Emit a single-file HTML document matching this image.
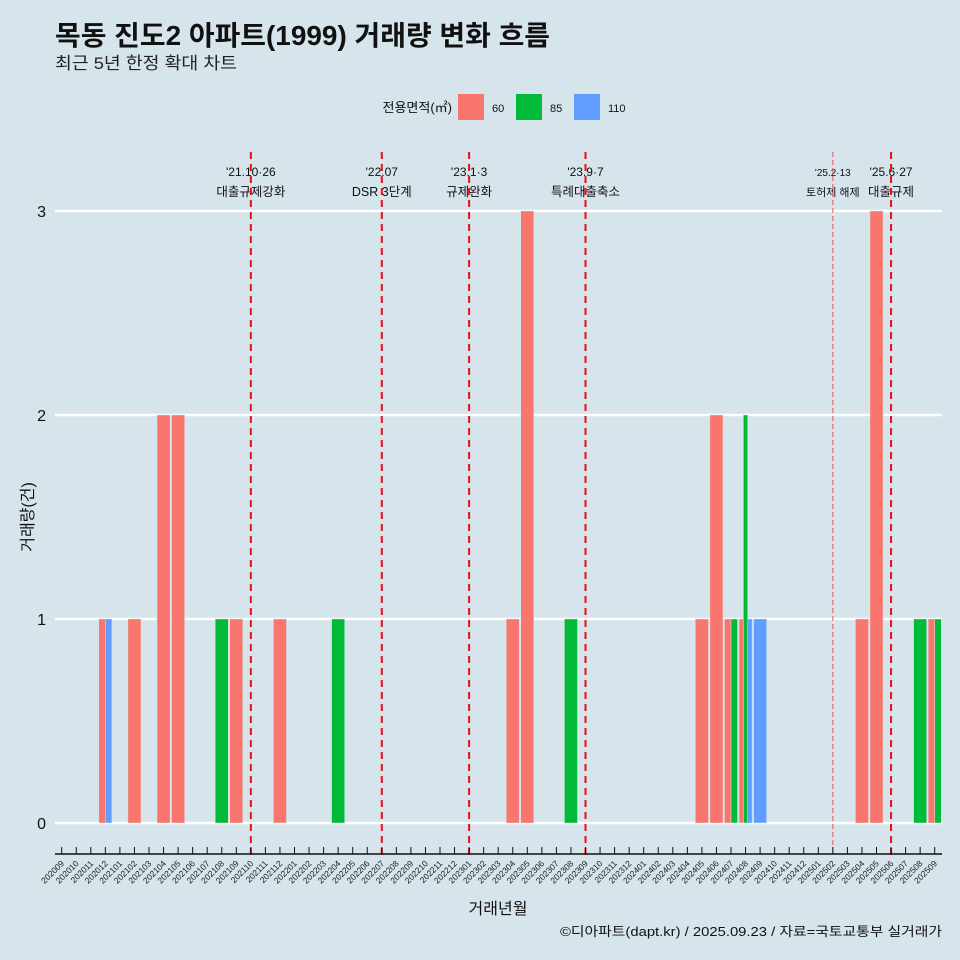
<!DOCTYPE html>
<html><head><meta charset="utf-8">
<style>
body{margin:0;background:#d6e4eb;}
svg{display:block;font-family:"Liberation Sans","Noto Sans CJK KR",sans-serif;}
</style></head>
<body>
<svg id="chart" width="960" height="960" viewBox="0 0 960 960">
<rect width="960" height="960" fill="#d6e4eb"/>
<text x="55" y="45" font-size="27.5" font-weight="bold" fill="#111" textLength="495" lengthAdjust="spacingAndGlyphs">목동 진도2 아파트(1999) 거래량 변화 흐름</text>
<text x="55" y="69" font-size="17" fill="#222" textLength="182" lengthAdjust="spacingAndGlyphs">최근 5년 한정 확대 차트</text>
<g>
<text x="452" y="112" font-size="13" text-anchor="end" fill="#111">전용면적(㎡)</text>
<rect x="458" y="94" width="26" height="26" fill="#f8766d"/>
<text x="492" y="112" font-size="11" fill="#111">60</text>
<rect x="516" y="94" width="26" height="26" fill="#00ba38"/>
<text x="550" y="112" font-size="11" fill="#111">85</text>
<rect x="574" y="94" width="26" height="26" fill="#619cff"/>
<text x="608" y="112" font-size="11" fill="#111">110</text>
</g>
<g id="grid"></g>
<g id="bars"></g>
<g id="events"></g>
<g id="axes"></g>
<text x="498" y="914" font-size="16" text-anchor="middle" fill="#111">거래년월</text>
<text transform="translate(33,517) rotate(-90)" font-size="16" text-anchor="middle" fill="#111">거래량(건)</text>
<text x="942" y="936" font-size="13" text-anchor="end" fill="#111" textLength="382" lengthAdjust="spacingAndGlyphs">©디아파트(dapt.kr) / 2025.09.23 / 자료=국토교통부 실거래가</text>
</svg>
<script>
const months = [];
for (let y = 2020, m = 9; y < 2025 || (y === 2025 && m <= 9); ) { months.push(String(y) + String(m).padStart(2,'0')); m++; if (m > 12) { m = 1; y++; } }
const seriesNames = ['60','85','110'];
const seriesColors = ['#f8766d','#00ba38','#619cff'];
const v60 = {'202012':1,'202102':1,'202104':2,'202105':2,'202109':1,'202112':1,'202304':1,'202305':3,'202405':1,'202406':2,'202407':1,'202408':1,'202504':1,'202505':3,'202509':1};
const v85 = {'202108':1,'202204':1,'202308':1,'202407':1,'202408':2,'202508':1,'202509':1};
const v110 = {'202012':1,'202408':1,'202409':1};
const yTicks = [0,1,2,3];
const eventMonths = ['202110','202207','202301','202309','202502','202506'];
const eventLine1 = ["'21.10·26","'22.07","'23.1·3","'23.9·7","'25.2·13","'25.6·27"];
const eventLine2 = ['대출규제강화','DSR 3단계','규제완화','특례대출축소','토허제 해제','대출규제'];
const eventMinor = [false,false,false,false,true,false];

const NS = 'http://www.w3.org/2000/svg';
const x0 = 61.7, step = 14.55, y0 = 823, unit = 204;
const xs = i => x0 + i * step;
const ys = v => y0 - v * unit;
function mk(tag, attrs, parent){ const e = document.createElementNS(NS, tag); for (const k in attrs) e.setAttribute(k, attrs[k]); parent.appendChild(e); return e; }
const grid = document.getElementById('grid'), bars = document.getElementById('bars'), ev = document.getElementById('events'), axes = document.getElementById('axes');

yTicks.forEach(t => {
  const l = mk('line', {x1:55, x2:942, y1:ys(t), y2:ys(t), stroke:'#fff', 'stroke-width':2.5}, grid);
  
  
  const tx = mk('text', {x:46, y:ys(t)+6, 'font-size':16, 'text-anchor':'end', fill:'#111'}, axes);
  tx.textContent = t;
  
  
});

const vals = [v60, v85, v110];
months.forEach((mo, i) => {
  const present = [];
  vals.forEach((s, k) => { if (s[mo]) present.push(k); });
  if (!present.length) return;
  const bw = step * 0.9, w = bw / present.length, left = xs(i) - bw / 2;
  present.forEach((k, j) => {
    const v = vals[k][mo];
    const r = mk('rect', {x:left + j*w, y:ys(v), width:w, height:v*unit, fill:seriesColors[k], stroke:'#d6e4eb', 'stroke-width':0.5}, bars);
    
    
  });
});

eventMonths.forEach((mo, n) => {
  const i = months.indexOf(mo), x = xs(i);
  const t1 = mk('text', {x:x, y:176, 'font-size':eventMinor[n]?10:12, 'text-anchor':'middle', fill:'#111'}, ev);
  t1.textContent = eventLine1[n];
  
  
  const t2 = mk('text', {x:x, y:196, 'font-size':eventMinor[n]?11:12.5, 'text-anchor':'middle', fill:'#111'}, ev);
  t2.textContent = eventLine2[n];
  
  
  const l = mk('line', {x1:x, x2:x, y1:152, y2:855, stroke: eventMinor[n]?'#e8575a':'#e8101a', 'stroke-width':eventMinor[n]?1:2, 'stroke-dasharray':eventMinor[n]?'5,3':'7,5'}, ev);
  
  
});

const ax = mk('line', {x1:55, x2:942, y1:854, y2:854, stroke:'#111', 'stroke-width':1.5}, axes);


months.forEach((mo, i) => {
  const x = xs(i);
  const tk = mk('line', {x1:x, x2:x, y1:847, y2:854, stroke:'#111', 'stroke-width':1}, axes);
  
  
  const tl = mk('text', {x:x+3, y:864, 'font-size':8.5, 'text-anchor':'end', fill:'#222', transform:'rotate(-45 '+(x+3)+' 864)'}, axes);
  tl.textContent = mo;
  
  
});
</script>
</body></html>
